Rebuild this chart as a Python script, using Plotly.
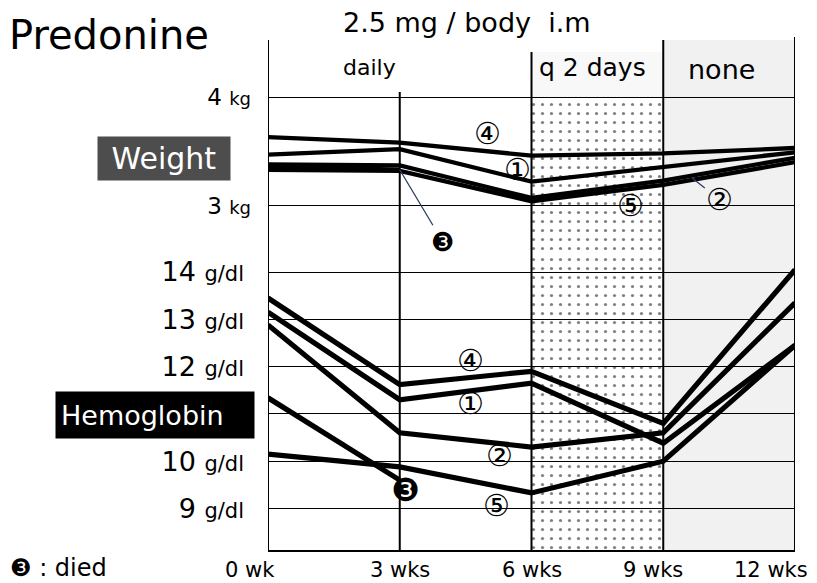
import plotly.graph_objects as go

# ---------------- data ----------------
weeks = [0, 3, 6, 9, 12]
week_labels = ["0 wk", "3 wks", "6 wks", "9 wks", "12 wks"]

weight_1 = [3.47, 3.52, 3.22, 3.35, 3.49]
weight_2 = [3.38, 3.37, 3.07, 3.23, 3.44]
weight_3 = [3.36, 3.33]
weight_4 = [3.63, 3.58, 3.46, 3.48, 3.53]
weight_5 = [3.33, 3.32, 3.04, 3.19, 3.40]

hb_1 = [13.15, 11.30, 11.65, 10.38, 12.45]
hb_2 = [12.88, 10.60, 10.30, 10.60, 13.35]
hb_3 = [11.34, 9.60]
hb_4 = [13.45, 11.62, 11.90, 10.80, 14.05]
hb_5 = [10.15, 9.88, 9.33, 10.00, 12.45]

weight_ticks = [3, 4]
weight_tick_labels = ["3", "4"]
hb_ticks = [9, 10, 11, 12, 13, 14]
hb_tick_labels = ["9", "10", "", "12", "13", "14"]

phase_names = ["daily", "q 2 days", "none"]
phase_start = [0, 6, 9]
phase_end = [6, 9, 12]

# ---------------- style / layout ----------------
FONT = "DejaVu Sans"
WEIGHT_RANGE = [2.544, 4.553]
HB_RANGE = [8.123, 14.359]
SPLIT = 0.575
LW_W = 4.3
LW_H = 5.2

fig = go.Figure()

# dotted pattern for "q 2 days" phase (drawn in both panels)
ps, pe = phase_start[1], phase_end[1]
pat = dict(shape=".", fgcolor="black", bgcolor="rgba(0,0,0,0)", size=9, solidity=0.1)
fig.add_trace(go.Scatter(x=[ps, pe, pe, ps, ps],
                         y=[weight_ticks[-1], weight_ticks[-1], WEIGHT_RANGE[0], WEIGHT_RANGE[0], weight_ticks[-1]],
                         yaxis="y2", fill="toself", fillcolor="rgba(0,0,0,0)", fillpattern=pat,
                         mode="none", hoverinfo="skip", showlegend=False))
fig.add_trace(go.Scatter(x=[ps, pe, pe, ps, ps],
                         y=[HB_RANGE[1], HB_RANGE[1], HB_RANGE[0], HB_RANGE[0], HB_RANGE[1]],
                         yaxis="y", fill="toself", fillcolor="rgba(0,0,0,0)", fillpattern=pat,
                         mode="none", hoverinfo="skip", showlegend=False))

for ys in [weight_1, weight_2, weight_3, weight_4, weight_5]:
    fig.add_trace(go.Scatter(x=weeks[:len(ys)], y=ys, yaxis="y2", mode="lines",
                             line=dict(color="black", width=LW_W), cliponaxis=False,
                             showlegend=False, hoverinfo="skip"))
for ys in [hb_1, hb_2, hb_3, hb_4, hb_5]:
    fig.add_trace(go.Scatter(x=weeks[:len(ys)], y=ys, yaxis="y", mode="lines",
                             line=dict(color="black", width=LW_H), cliponaxis=False,
                             showlegend=False, hoverinfo="skip"))

shapes = []
# light speckled "none" phase
shapes.append(dict(type="rect", xref="x", yref="paper", x0=phase_start[2], x1=phase_end[2],
                   y0=0, y1=0.994, fillcolor="#f1f1f1", line=dict(width=0), layer="below"))
shapes.append(dict(type="rect", xref="x", yref="paper", x0=phase_start[1], x1=phase_end[1],
                   y0=0.883, y1=0.971, fillcolor="#f8f8f8", line=dict(width=0), layer="below"))
# vertical week lines
v_tops = [0.994, 0.893, 0.971, 0.994, 1.0]
for w, top in zip(weeks, v_tops):
    shapes.append(dict(type="line", xref="x", yref="paper", x0=w, x1=w, y0=0, y1=top,
                       line=dict(color="black", width=2)))

ann = []
def add(text, x, y, xref="paper", yref="paper", size=20, color="black",
        xanchor="center", yanchor="middle", **kw):
    d = dict(text=text, x=x, y=y, xref=xref, yref=yref, showarrow=False,
             xanchor=xanchor, yanchor=yanchor,
             font=dict(family=FONT, size=size, color=color))
    d.update(kw)
    ann.append(d)

add("Predonine", -0.495, 1.003, size=40, xanchor="left")
add("2.5 mg / body\u00a0\u00a0i.m", 0.378, 1.029, size=27)
phase_shift = [-30, -5, -8]
phase_y = [0.940, 0.940, 0.936]
phase_size = [22, 25, 27]
for name, s, e, dx, py, fs in zip(phase_names, phase_start, phase_end, phase_shift, phase_y, phase_size):
    add(name, (s + e) / 2, py, xref="x", size=fs, xshift=dx)

# x tick labels
x_shift = [-18, 0, 0, -10, -24]
for w, lab, dx in zip(weeks, week_labels, x_shift):
    add(lab, w, -0.012, xref="x", size=21, xshift=dx, yanchor="top")

add("Weight", -0.197, 0.764, size=30, color="white", bgcolor="#4d4d4d",
    width=126, height=37, borderpad=3)
add("Hemoglobin", -0.214, 0.263, size=27, color="white", bgcolor="black",
    width=188, height=36, borderpad=5, align="left")
add("\u2778 : died", -0.493, -0.035, size=24, xanchor="left")

# circled series labels - weight panel
CS = 30
add("\u2463", 4.99, 3.66, xref="x", yref="y2", size=CS)
add("\u2460", 5.67, 3.33, xref="x", yref="y2", size=CS)
add("\u2464", 8.26, 3.00, xref="x", yref="y2", size=CS)
ann.append(dict(text="\u2461", x=9.65, y=3.255, xref="x", yref="y2", showarrow=True,
                arrowhead=0, arrowwidth=1.3, ax=28, ay=22, font=dict(family=FONT, size=CS)))
ann.append(dict(text="\u2778", x=3, y=3.33, xref="x", yref="y2", showarrow=True,
                arrowhead=0, arrowwidth=1.3, ax=43, ay=72, font=dict(family=FONT, size=26)))
# hemoglobin panel
add("\u2463", 4.60, 12.12, xref="x", yref="y", size=CS)
add("\u2460", 4.60, 11.23, xref="x", yref="y", size=CS)
add("\u2461", 5.28, 10.13, xref="x", yref="y", size=CS)
add("\u2464", 5.21, 9.07, xref="x", yref="y", size=CS)
add("\u2778", 3.12, 9.39, xref="x", yref="y", size=32)

fig.update_layout(
    width=809, height=575,
    margin=dict(l=260, r=22, t=29, b=33, autoexpand=False),
    paper_bgcolor="white", plot_bgcolor="white",
    showlegend=False,
    font=dict(family=FONT, color="black"),
    xaxis=dict(range=[0, 12], showgrid=False, zeroline=False, showticklabels=False,
               showline=True, linecolor="black", linewidth=2, ticks="", anchor="y"),
    yaxis=dict(domain=[0, SPLIT], range=HB_RANGE, tickvals=hb_ticks,
               ticktext=[(t + " <span style='font-size:21px'>g/dl</span>") if t else "" for t in hb_tick_labels],
               tickfont=dict(family=FONT, size=27), ticklabelstandoff=23,
               showgrid=True, gridcolor="black", gridwidth=1.3, zeroline=False, ticks=""),
    yaxis2=dict(domain=[SPLIT, 1], range=WEIGHT_RANGE, tickvals=weight_ticks,
                ticktext=[t + " <span style='font-size:18px'>kg</span>" for t in weight_tick_labels],
                tickfont=dict(family=FONT, size=23), ticklabelstandoff=16,
                showgrid=True, gridcolor="black", gridwidth=1.3, zeroline=False, ticks="", anchor="x"),
    shapes=shapes,
    annotations=ann,
)

fig.write_html("out.html")
